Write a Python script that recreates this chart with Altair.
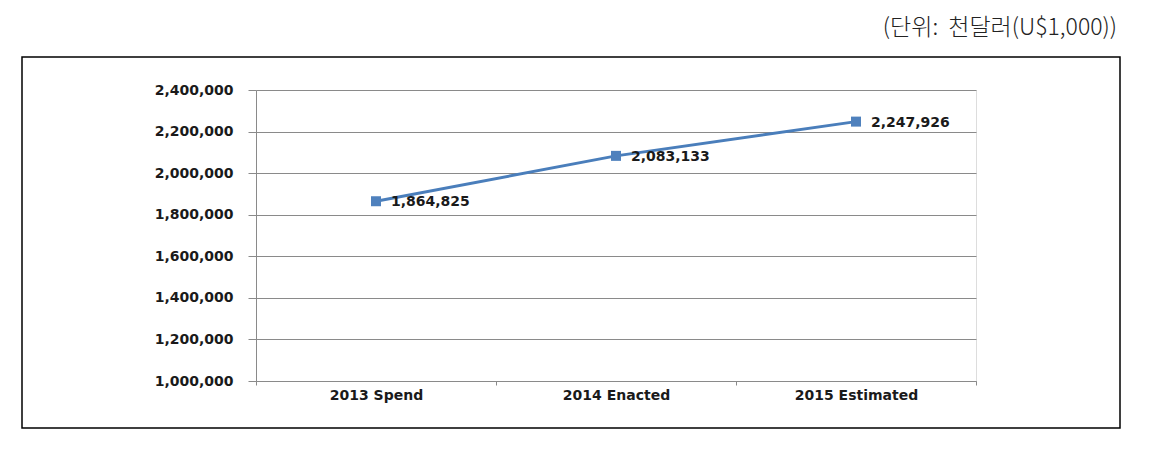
import altair as alt
import pandas as pd

categories = ["2013 Spend", "2014 Enacted", "2015 Estimated"]
values = [1864825, 2083133, 2247926]
y_ticks = [1000000, 1200000, 1400000, 1600000, 1800000, 2000000, 2200000, 2400000]
unit_label = "(단위:\u00a0\u00a0천달러(U$1,000))"

df = pd.DataFrame({"cat": categories, "val": values})

FONT = "DejaVu Sans"
FS = 14

x_enc = alt.X("cat:N", sort=categories, title=None,
              scale=alt.Scale(paddingInner=0, paddingOuter=0),
              axis=alt.Axis(labelAngle=0, labelFont=FONT, labelFontSize=FS,
                            labelFontWeight="bold", labelColor="#1a1a1a",
                            domainColor="#8a8a8a", tickColor="#8a8a8a",
                            tickBand="extent", tickSize=4, labelPadding=3,
                            grid=False))
y_enc = alt.Y("val:Q", title=None,
              scale=alt.Scale(domain=[1000000, 2400000], nice=False, zero=False),
              axis=alt.Axis(values=y_ticks, format=",d", labelFont=FONT,
                            labelFontSize=FS, labelFontWeight="bold",
                            labelColor="#1a1a1a", domainColor="#8a8a8a",
                            tickColor="#8a8a8a", tickSize=8, labelPadding=15,
                            gridColor="#8a8a8a", gridWidth=1))

base = alt.Chart(df)

line = base.mark_line(color="#4a7ebb", strokeWidth=3).encode(x=x_enc, y=y_enc)
pts = base.mark_point(shape="square", filled=True, size=100, opacity=1,
                      color="#4f81bd").encode(x=x_enc, y=y_enc)
labels = base.mark_text(align="left", baseline="middle", dx=15, dy=1,
                        font=FONT, fontSize=FS, fontWeight="bold",
                        color="#1a1a1a").encode(
    x=x_enc, y=y_enc, text=alt.Text("val:Q", format=",d"))

frame = alt.Chart(pd.DataFrame({"k": [0]})).mark_rect(
    fill=None, stroke="#000000", strokeWidth=1.5).encode(
    x=alt.value(-234), x2=alt.value(864), y=alt.value(-33), y2=alt.value(338))

unit = alt.Chart(pd.DataFrame({"t": [unit_label]})).mark_text(
    align="right", baseline="middle", font="Noto Sans CJK KR", fontSize=23,
    fontWeight=300, color="#222222").encode(
    x=alt.value(861), y=alt.value(-62), text="t:N")

chart = alt.layer(frame, line, pts, labels, unit).properties(
    width=720, height=291,
    autosize=alt.AutoSizeParams(type="none"),
    padding={"left": 248, "top": 82, "right": 180, "bottom": 67},
).configure_view(stroke=None).configure(background="white")

chart.save("out.html", embed_options={"renderer": "svg", "actions": False})
